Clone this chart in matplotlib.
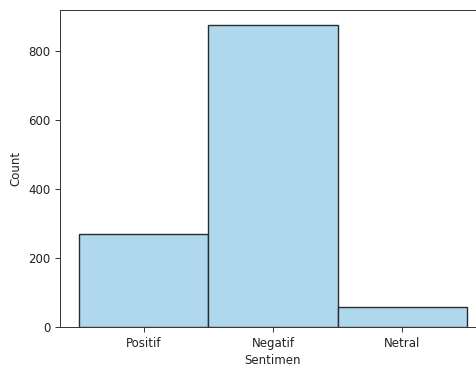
import matplotlib
matplotlib.use("Agg")
import matplotlib.pyplot as plt

categories = ["Positif", "Negatif", "Netral"]
counts = [270, 875, 57]

plt.rcParams['font.family'] = ['DejaVu Sans']
fig = plt.figure(figsize=(4.77, 3.68), dpi=100)
ax = fig.add_axes([60/477, 41/368, 426/477, 317/368])

x = list(range(len(categories)))
ax.bar(x, counts, width=1.0, color="#AFD8EC", edgecolor="#2b2b2b", linewidth=1.0)
ax.set_xticks(x)
ax.set_xticklabels(categories)
ax.margins(x=0.05, y=0.05)
ax.set_ylim(0, max(counts) * 1.05)
ax.set_yticks([0, 200, 400, 600, 800])
ax.tick_params(labelsize=8.5, width=0.7, length=3.5, colors="#333333", labelcolor="#222222")
ax.set_xlabel("Sentimen", fontsize=8.5, labelpad=3, color="#222222")
ax.set_ylabel("Count", fontsize=8.5, color="#222222")
for s in ax.spines.values():
    s.set_linewidth(0.7)
    s.set_color("#333333")

fig.savefig("out.png", dpi=100)
